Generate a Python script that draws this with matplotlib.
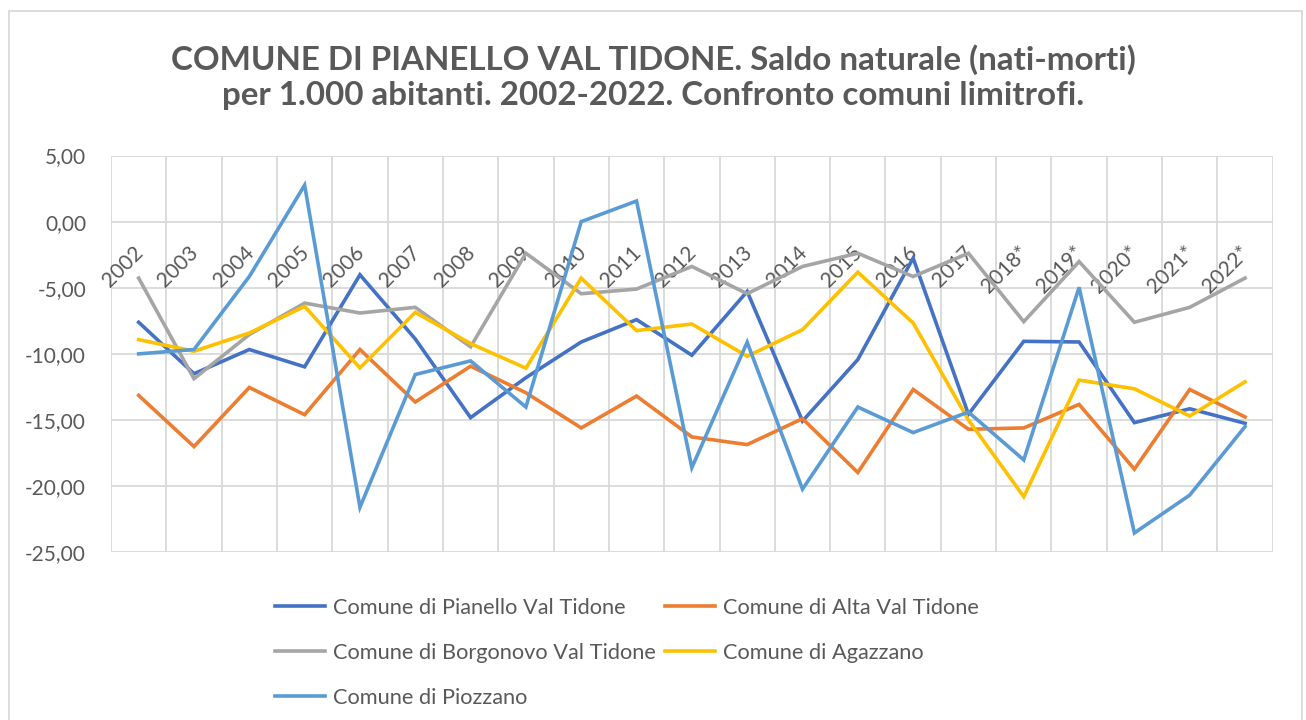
import matplotlib.pyplot as plt
from matplotlib.patches import Rectangle

# Saldo naturale per 1.000 abitanti
years = ["2002", "2003", "2004", "2005", "2006", "2007", "2008", "2009", "2010",
         "2011", "2012", "2013", "2014", "2015", "2016", "2017", "2018*", "2019*",
         "2020*", "2021*", "2022*"]

pianello = [-7.61, -11.50, -9.67, -10.98, -4.02, -8.87, -14.82, -11.80, -9.10,
            -7.41, -10.10, -5.28, -15.08, -10.43, -2.76, -14.57, -9.05, -9.10,
            -15.20, -14.15, -15.25]
alta = [-13.14, -17.01, -12.54, -14.60, -9.67, -13.64, -10.93, -12.94, -15.60,
        -13.19, -16.28, -16.86, -14.90, -18.97, -12.69, -15.70, -15.60, -13.82,
        -18.72, -12.69, -14.77]
borgonovo = [-4.27, -11.88, -8.54, -6.16, -6.91, -6.48, -9.47, -2.39, -5.45,
             -5.10, -3.39, -5.45, -3.39, -2.39, -4.15, -2.39, -7.56, -3.02,
             -7.61, -6.48, -4.27]
agazzano = [-8.92, -9.80, -8.42, -6.41, -11.06, -6.86, -9.22, -11.08, -4.27,
            -8.24, -7.74, -10.18, -8.17, -3.82, -7.66, -15.00, -20.80, -11.98,
            -12.64, -14.70, -12.11]
piozzano = [-10.00, -9.67, -4.15, 2.76, -21.60, -11.56, -10.53, -14.02, 0.00,
            1.56, -18.60, -9.12, -20.23, -14.02, -15.95, -14.40, -18.02, -4.97,
            -23.54, -20.68, -15.50]

series = [
    ("Comune di Pianello Val Tidone", pianello, "#4472C4"),
    ("Comune di Alta Val Tidone", alta, "#ED7D31"),
    ("Comune di Borgonovo Val Tidone", borgonovo, "#A5A5A5"),
    ("Comune di Agazzano", agazzano, "#FFC000"),
    ("Comune di Piozzano", piozzano, "#5B9BD5"),
]

TEXT = "#595959"
GRID = "#D9D9D9"
plt.rcParams["font.family"] = ["Lato", "DejaVu Sans"]

fig = plt.figure(figsize=(13.06, 7.2), dpi=100)
ax = fig.add_axes([0.085, 0.233, 0.8895, 0.551])

x = list(range(len(years)))
lines = {}
for name, vals, color in series:
    (ln,) = ax.plot(x, vals, color=color, lw=2.6, label=name,
                    solid_joinstyle="miter", zorder=3)
    lines[name] = ln

ax.set_xlim(-0.5, len(years) - 0.5)
ax.set_ylim(-25, 5)
ax.set_yticks(range(-25, 6, 5))
ax.set_yticklabels([f"{v:.2f}".replace(".", ",") for v in range(-25, 6, 5)],
                   color=TEXT, fontsize=15)
ax.tick_params(axis="y", length=0, pad=18)
ax.set_xticks([i + 0.5 for i in range(-1, len(years))])
ax.set_xticklabels([])
ax.tick_params(axis="x", length=0)
ax.grid(True, color=GRID, lw=1.3, zorder=0)
for s in ax.spines.values():
    s.set_visible(False)

# category labels sit next to the axis crossing at 0
for i, lab in enumerate(years):
    ax.annotate(lab, xy=(i, 0), xytext=(1, -20), textcoords="offset points",
                rotation=45, rotation_mode="anchor", ha="right", va="center",
                fontsize=15, color=TEXT, zorder=2)

fig.text(0.5, 0.893, "COMUNE DI PIANELLO VAL TIDONE. Saldo naturale (nati-morti)\n"
         "per 1.000 abitanti. 2002-2022. Confronto comuni limitrofi.",
         ha="center", va="center", fontsize=23.9, fontweight="bold", color=TEXT,
         linespacing=1.22)

order = ["Comune di Pianello Val Tidone", "Comune di Borgonovo Val Tidone",
         "Comune di Piozzano", "Comune di Alta Val Tidone", "Comune di Agazzano"]
leg = fig.legend([lines[n] for n in order], order, ncol=2,
                 loc="upper left", bbox_to_anchor=(0.1953, 0.197),
                 frameon=False, fontsize=15.7, handlelength=2.3,
                 handletextpad=0.37, columnspacing=0.42, labelspacing=1.15)
for t in leg.get_texts():
    t.set_color(TEXT)

fig.patches.append(Rectangle((9 / 1306, -0.02), 1293 / 1306, 1.02 - 11 / 720,
                             transform=fig.transFigure, fill=False,
                             edgecolor=GRID, lw=1.3))

fig.savefig("out.png", dpi=100, facecolor="white")
